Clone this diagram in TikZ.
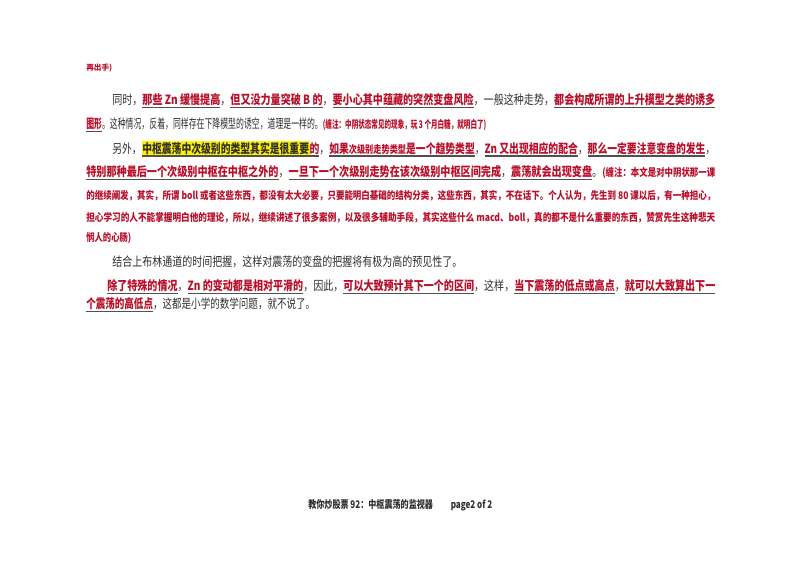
\documentclass[tikz,border=0pt]{standalone}
\usepackage{fontspec}
\setmainfont{Noto Sans CJK SC}
\usepackage{graphicx}
\definecolor{redtext}{HTML}{B8102A}
\definecolor{bodytext}{HTML}{303030}
\definecolor{ulgrey}{HTML}{505050}
\definecolor{hlyellow}{HTML}{FFF200}
\newcommand\ru[1]{{\setbox0\hbox{\bfseries #1}\rlap{\color{ulgrey}\rule[-2.6pt]{\wd0}{1pt}}\color{redtext}\box0}}
\newcommand\hl[1]{{\setlength{\fboxsep}{0.5pt}\colorbox{hlyellow}{#1}}}
\newcommand\note[1]{{\color{redtext}\bfseries\fontsize{7.5}{8}\selectfont #1}}
\begin{document}
\begin{tikzpicture}[x=0.025cm,y=-0.025cm,
    line/.style={anchor=west,inner sep=0pt,text=bodytext,font=\fontsize{9}{10}\selectfont}]
  \useasboundingbox[fill=white] (0,0) rectangle (800,566);

  \node[line] (l0) at (86,68) {\resizebox{26\dimexpr0.025cm}{!}{\note{再出手)}}};
  \node[line] (l1) at (112,101) {\resizebox{603\dimexpr0.025cm}{\height}{同时，\ru{那些 Zn 缓慢提高}，\ru{但又没力量突破 B 的}，\ru{要小心其中蕴藏的突然变盘风险}，一般这种走势，\ru{都会构成所谓的上升模型之类的诱多}}};
  \node[line] (l2) at (86,125) {\resizebox{400\dimexpr0.025cm}{\height}{\ru{图形}。这种情况，反着，同样存在下降模型的诱空，道理是一样的。\note{(缠注：中阴状态常见的现象，玩 3 个月白糖，就明白了)}}};
  \node[line] (l3) at (112,149) {\resizebox{603\dimexpr0.025cm}{\height}{另外，\ru{\hl{中枢震荡中次级别的类型其实是很重要}的}，\ru{如果{\fontsize{7.5}{8}\selectfont 次级别走势类型}是一个趋势类型}，\ru{Zn 又出现相应的配合}，\ru{那么一定要注意变盘的发生}，}};
  \node[line] (l4) at (86,173) {\resizebox{629\dimexpr0.025cm}{\height}{\ru{特别那种最后一个次级别中枢在中枢之外的}，\ru{一旦下一个次级别走势在该次级别中枢区间完成}，\ru{震荡就会出现变盘}。\note{(缠注：本文是对中阴状那一课}}};
  \node[line] (l5) at (86,196) {\resizebox{629\dimexpr0.025cm}{\height}{\note{的继续阐发，其实，所谓 boll 或者这些东西，都没有太大必要，只要能明白基础的结构分类，这些东西，其实，不在话下。个人认为，先生到 80 课以后，有一种担心，}}};
  \node[line] (l6) at (86,218) {\resizebox{629\dimexpr0.025cm}{\height}{\note{担心学习的人不能掌握明白他的理论，所以，继续讲述了很多案例，以及很多辅助手段，其实这些什么 macd、boll，真的都不是什么重要的东西，赞赏先生这种悲天}}};
  \node[line] (l7) at (86,238) {\resizebox{45\dimexpr0.025cm}{\height}{\note{悯人的心肠)}}};
  \node[line] (l8) at (112,262) {\resizebox{350\dimexpr0.025cm}{\height}{结合上布林通道的时间把握，这样对震荡的变盘的把握将有极为高的预见性了。}};
  \node[line] (l9) at (107,287) {\resizebox{608\dimexpr0.025cm}{\height}{\ru{除了特殊的情况}，\ru{Zn 的变动都是相对平滑的}，因此，\ru{可以大致预计其下一个的区间}，这样，\ru{当下震荡的低点或高点}，\ru{就可以大致算出下一}}};
  \node[line] (l10) at (86,305) {\resizebox{229\dimexpr0.025cm}{\height}{\ru{个震荡的高低点}，这都是小学的数学问题，就不说了。}};

  \node[line,font=\bfseries\fontsize{7.5}{8}\selectfont] (foot) at (308,505) {\resizebox{184\dimexpr0.025cm}{\height}{教你炒股票 92：中枢震荡的监视器\hspace{2.2em}page2 of 2}};
\end{tikzpicture}
\end{document}
